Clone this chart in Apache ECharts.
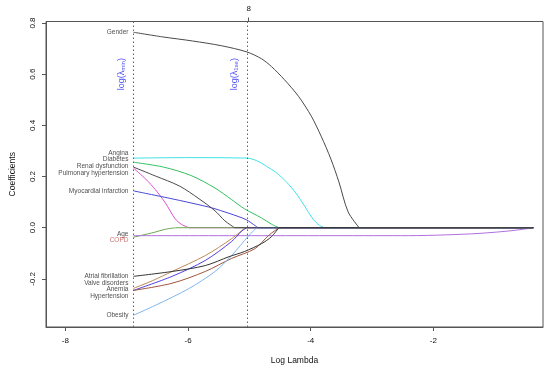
<!DOCTYPE html>
<html><head><meta charset="utf-8">
<script src="https://cdn.jsdelivr.net/npm/echarts@6/dist/echarts.min.js"></script>
<style>html,body{margin:0;padding:0;background:#fff}#c{width:550px;height:370px}</style>
</head><body><div id="c"></div>
<script>
// ---- data (log lambda, coefficient) ----
const gender = [[-6.89,0.764],[-6.42,0.746],[-5.93,0.730],[-5.45,0.711],[-5.04,0.687],[-4.80,0.660],[-4.64,0.630],[-4.43,0.579],[-4.20,0.514],[-3.99,0.436],[-3.83,0.358],[-3.67,0.268],[-3.54,0.179],[-3.39,0.062],[-3.21,0],[-0.37,0]];
const angina = [[-6.89,0.272],[-6.0,0.274],[-5.04,0.272],[-4.88,0.262],[-4.72,0.240],[-4.56,0.215],[-4.40,0.180],[-4.24,0.135],[-4.10,0.085],[-3.96,0.033],[-3.86,0.010],[-3.78,0],[-0.37,0]];
const diabetes = [[-6.89,0.256],[-6.40,0.237],[-5.95,0.204],[-5.56,0.155],[-5.29,0.110],[-5.08,0.074],[-4.80,0.038],[-4.64,0.014],[-4.52,0],[-0.37,0]];
const renal = [[-6.89,0.237],[-6.53,0.202],[-6.14,0.163],[-5.82,0.113],[-5.56,0.066],[-5.40,0.027],[-5.24,0],[-0.37,0]];
const pulmonary = [[-6.89,0.233],[-6.69,0.190],[-6.53,0.148],[-6.37,0.097],[-6.21,0.035],[-6.10,0.012],[-5.98,0],[-0.37,0]];
const myocardial = [[-6.89,0.144],[-6.26,0.113],[-5.77,0.087],[-5.56,0.074],[-5.17,0.043],[-5.04,0.030],[-4.86,0],[-0.37,0]];
const age = [[-6.89,-0.037],[-6.55,-0.018],[-6.37,-0.006],[-6.20,0],[-0.37,0]];
const copd = [[-6.89,-0.031],[-2.4,-0.031],[-1.8,-0.028],[-1.24,-0.022],[-0.70,-0.011],[-0.37,0]];
const atrial = [[-6.89,-0.190],[-6.26,-0.171],[-5.72,-0.148],[-5.33,-0.113],[-5.08,-0.093],[-4.80,-0.062],[-4.64,-0.035],[-4.52,0],[-0.37,0]];
const valve = [[-6.89,-0.237],[-6.58,-0.207],[-6.26,-0.171],[-5.72,-0.109],[-5.29,-0.043],[-5.07,0],[-0.37,0]];
const anemia = [[-6.89,-0.245],[-6.26,-0.190],[-5.72,-0.128],[-5.29,-0.054],[-5.12,-0.012],[-5.04,0],[-0.37,0]];
const hypertension = [[-6.89,-0.245],[-6.26,-0.217],[-5.72,-0.171],[-5.29,-0.120],[-4.91,-0.082],[-4.69,-0.031],[-4.52,0],[-0.37,0]];
const obesity = [[-6.89,-0.342],[-6.53,-0.303],[-5.98,-0.237],[-5.56,-0.171],[-5.29,-0.109],[-5.01,-0.031],[-4.88,0],[-0.37,0]];

const labelNames = ['Gender','Angina','Diabetes','Renal dysfunction','Pulmonary hypertension','Myocardial infarction','Age','COPD','Atrial fibrillation','Valve disorders','Anemia','Hypertension','Obesity'];
const labelY = [0.763,0.291,0.266,0.241,0.214,0.144,-0.027,-0.050,-0.190,-0.216,-0.241,-0.268,-0.342];

const lambdaLines = [-6.89, -5.04];           // log(lambda_min), log(lambda_1se)
const xTicks = [-8,-6,-4,-2];
const yTicks = [-0.2,0,0.2,0.4,0.6,0.8];
const topTicks = [-5.01];
const topTickLabels = ['8'];
const xRange = [-8.316, -0.212];
const yRange = [-0.388, 0.806];

// ---- styles ----
const pathSeries = [
  {d: angina, c: '#3fe3e6'},
  {d: diabetes, c: '#33c060'},
  {d: pulmonary, c: '#e050d0'},
  {d: age, c: '#6aa84f'},
  {d: copd, c: '#b070e0'},
  {d: valve, c: '#c08a55'},
  {d: anemia, c: '#5040e0'},
  {d: hypertension, c: '#a0553a'},
  {d: obesity, c: '#7fb6ee'},
  {d: myocardial, c: '#4848d8'},
  {d: renal, c: '#4a4a4a'},
  {d: atrial, c: '#333333'},
  {d: gender, c: '#4a4a4a'}
];
const labelColors = labelNames.map(n => n === 'COPD' ? '#c0504d' : '#222');
const FONT = 'Liberation Sans, Arial, Helvetica, sans-serif';
const VLINE = 'rgb(80,80,245)';

const chart = echarts.init(document.getElementById('c'), null, {renderer: 'canvas'});
const series = [];
pathSeries.forEach((s) => {
  const z0 = s.d.findIndex(p => p[1] === 0);
  const curved = s.d.slice(0, z0 + 1);
  const tail = s.d.slice(z0);
  series.push({type: 'line', data: curved, showSymbol: false, symbol: 'none', silent: true, smooth: 0.3,
    lineStyle: {color: s.c, width: 1}, itemStyle: {color: s.c}, z: 3});
  series.push({type: 'line', data: tail, showSymbol: false, symbol: 'none', silent: true,
    lineStyle: {color: s.c, width: 1}, itemStyle: {color: s.c}, z: 3});
});
// curve name labels, text-only points left of the lambda_min line
series.push({
  type: 'scatter', symbol: 'circle', symbolSize: 0, silent: true, z: 5,
  itemStyle: {color: 'rgba(0,0,0,0)'},
  data: labelNames.map((n, i) => ({name: n, value: [lambdaLines[0], labelY[i]], label: {color: labelColors[i]}})),
  label: {show: true, position: 'left', distance: 5, formatter: '{b}', fontSize: 6.5, fontFamily: FONT}
});

chart.setOption({
  animation: false,
  backgroundColor: '#fff',
  grid: {left: 43, right: 7, top: 21.5, bottom: 41, show: true, borderColor: '#555', borderWidth: 1},
  xAxis: [{
    type: 'value', min: xRange[0], max: xRange[1], position: 'bottom',
    name: 'Log Lambda', nameLocation: 'middle', nameGap: 29,
    nameTextStyle: {fontSize: 8.5, color: '#111', fontFamily: FONT},
    axisLine: {show: true, onZero: false, lineStyle: {color: '#555'}},
    axisTick: {show: true, length: 4, customValues: xTicks, lineStyle: {color: '#555'}},
    axisLabel: {customValues: xTicks, margin: 10, fontSize: 8, color: '#111', fontFamily: FONT},
    splitLine: {show: false}
  }, {
    type: 'value', min: xRange[0], max: xRange[1], position: 'top',
    axisLine: {show: false, onZero: false},
    axisTick: {show: true, length: 4, customValues: topTicks, lineStyle: {color: '#555'}},
    axisLabel: {customValues: topTicks, margin: 9, fontSize: 8, color: '#111', fontFamily: FONT,
      formatter: v => { const i = topTicks.findIndex(t => Math.abs(t - v) < 1e-6); return i >= 0 ? topTickLabels[i] : ''; }},
    splitLine: {show: false}
  }],
  yAxis: {
    type: 'value', min: yRange[0], max: yRange[1],
    name: 'Coefficients', nameLocation: 'middle', nameGap: 29, nameRotate: 90,
    nameTextStyle: {fontSize: 8.5, color: '#111', fontFamily: FONT},
    axisLine: {show: true, onZero: false, lineStyle: {color: '#555'}},
    axisTick: {show: true, length: 4, customValues: yTicks, lineStyle: {color: '#555'}},
    axisLabel: {customValues: yTicks, rotate: 90, margin: 9, fontSize: 8, color: '#111', fontFamily: FONT,
      formatter: v => v.toFixed(1)},
    splitLine: {show: false}
  },
  series: series
});

// dotted lambda lines (pixel-snapped, positioned through the axis scale) and their labels
const annText = ['min', '1se'];
const graphics = [];
lambdaLines.forEach((v, i) => {
  const top = chart.convertToPixel({xAxisIndex: 0, yAxisIndex: 0}, [v, yRange[1]]);
  const bot = chart.convertToPixel({xAxisIndex: 0, yAxisIndex: 0}, [v, yRange[0]]);
  const px = Math.round(top[0]) + 0.5;
  graphics.push({
    type: 'line', silent: true, z: 20,
    shape: {x1: px, y1: top[1], x2: px, y2: bot[1]},
    style: {stroke: VLINE, lineWidth: 1, lineDash: [1.5, 2.5]}
  });
  const p = chart.convertToPixel({xAxisIndex: 0, yAxisIndex: 0}, [v, 0.6]);
  graphics.push({
    type: 'text', x: p[0] - 12, y: p[1], rotation: Math.PI / 2, z: 20, silent: true,
    style: {
      text: '{a|log(λ}{s|' + annText[i] + '}{a|)}',
      fill: VLINE, align: 'center', verticalAlign: 'middle',
      textAlign: 'center', textVerticalAlign: 'middle',
      rich: {
        a: {fontSize: 9, fontFamily: FONT, fill: VLINE, color: VLINE, verticalAlign: 'bottom'},
        s: {fontSize: 6, fontFamily: FONT, fill: VLINE, color: VLINE, verticalAlign: 'bottom', padding: [3, 0, 0, 0]}
      }
    }
  });
});
chart.setOption({graphic: graphics});
</script>
</body></html>
